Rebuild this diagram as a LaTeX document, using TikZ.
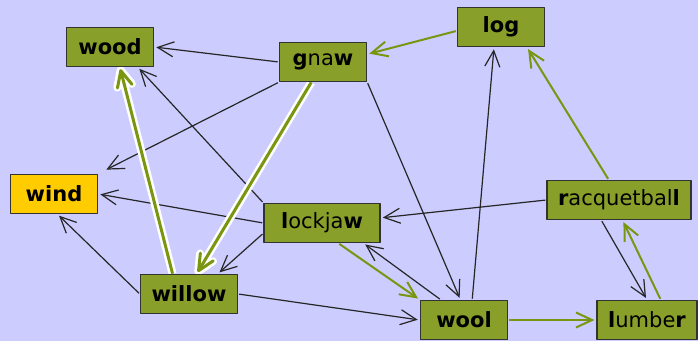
\documentclass[tikz,border=0pt]{standalone}
\usepackage{fontspec}
\setmainfont{DejaVu Sans}
\usetikzlibrary{arrows.meta,backgrounds}
\definecolor{lavender}{RGB}{204,204,255}
\definecolor{olivebox}{RGB}{136,160,42}
\definecolor{olivearc}{RGB}{122,150,16}
\definecolor{windbox}{RGB}{255,204,0}
\begin{document}
\begin{tikzpicture}[x=1pt, y=-1pt, line join=round, line cap=round,
  >={Straight Barb[length=16pt,width=15pt]},
  word/.style={draw=black!80, line width=1.6pt, fill=olivebox, minimum width=87pt,
    minimum height=39pt, inner xsep=11pt, font=\fontsize{21}{24}\selectfont},
  goal/.style={word, fill=windbox},
  link/.style={->, line width=1.2pt, black!85, shorten >=2pt, shorten <=1pt},
  greenlink/.style={->, line width=2pt, olivearc, shorten >=2pt, shorten <=1pt},
  halo/.style={-{Straight Barb[length=16pt,width=15pt,round]}, line width=8pt, white, shorten >=-1pt},
  trail/.style={-{Straight Barb[length=16pt,width=15pt,round]}, line width=3pt, olivearc, shorten >=2pt}]
	\useasboundingbox (0,0) rectangle (698,341);
	% words
	\node[word] (wood) at (110,47) {\textbf{wood}};
	\node[word] (gnaw) at (323,62) {\textbf{g}na\textbf{w}};
	\node[word] (log) at (501,27) {\textbf{log}};
	\node[goal] (wind) at (54,194) {\textbf{wind}};
	\node[word, minimum width=116pt] (lockjaw) at (322,223) {\textbf{l}ockja\textbf{w}};
	\node[word] (racquetball) at (619,200) {\textbf{r}acquetbal\textbf{l}};
	\node[word] (willow) at (189,294) {\textbf{willow}};
	\node[word] (wool) at (464,320) {\textbf{wool}};
	\node[word] (lumber) at (647,320) {\textbf{l}umbe\textbf{r}};
	\begin{scope}[on background layer]
		\fill[lavender] (0,0) rectangle (698,341);
		% moves
		\draw[link] (gnaw.west) -- (wood.east);
		\draw[greenlink] (log.185) -- (gnaw.10);
		\draw[link, shorten >=9pt] (gnaw.south west) -- (wind.north east);
		\draw[link] (lockjaw.north west) -- (wood.-36);
		\draw[link] (lockjaw.west) -- (wind.east);
		\draw[link] (lockjaw.190) -- (willow.35);
		\draw[link] (willow.west) -- (wind.-80);
		\draw[link] (willow.east) -- (wool.west);
		\draw[greenlink] (lockjaw.-51) -- (wool.north west);
		\draw[link] (wool.139) -- (lockjaw.-26);
		\draw[link] (gnaw.south east) -- (wool.100);
		\draw[link] (wool.68) -- (log.251);
		\draw[greenlink] (racquetball.117) -- (log.-38);
		\draw[link] (racquetball.west) -- (lockjaw.5);
		\draw[link] (racquetball.229) -- (lumber.north);
		\draw[greenlink] (lumber.56) -- (racquetball.-80);
		\draw[greenlink] (wool.east) -- (lumber.west);
		% solution path
		\draw[halo] (willow.129) -- (wood.-64);
		\draw[trail] (willow.129) -- (wood.-64);
		\draw[halo] (gnaw.240) -- (willow.69);
		\draw[trail] (gnaw.240) -- (willow.69);
	\end{scope}
\end{tikzpicture}
\end{document}
